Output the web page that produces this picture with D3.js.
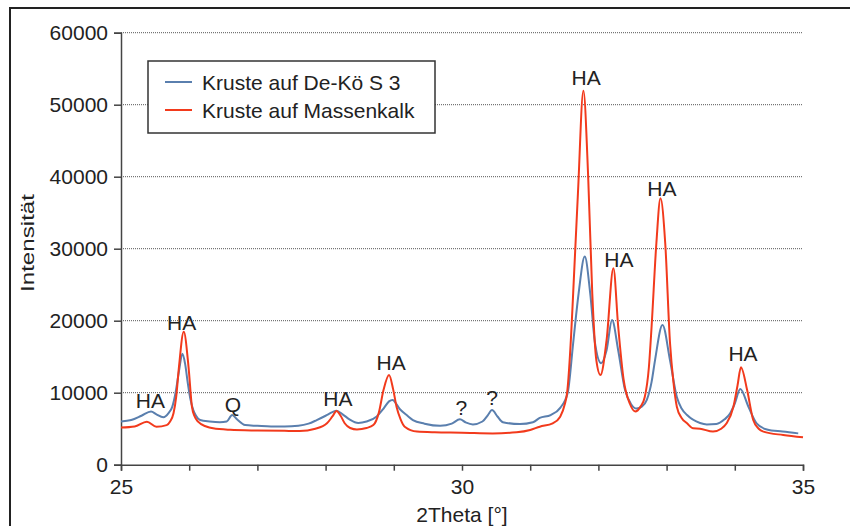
<!DOCTYPE html>
<html>
<head>
<meta charset="utf-8">
<script src="https://cdn.jsdelivr.net/npm/d3@7"></script>
<style>
  body { margin: 0; background: #fff; }
  svg { display: block; font-family: "Liberation Sans", Arial, sans-serif; }
</style>
</head>
<body>
<svg id="chart" width="850" height="526"></svg>
<script>
// ---- data ----
const seriesNames = ["Kruste auf De-Kö S 3", "Kruste auf Massenkalk"];

const blueX = [25.00,25.15,25.30,25.44,25.52,25.62,25.70,25.75,25.80,25.85,25.90,25.94,25.98,26.02,26.06,26.10,26.16,26.30,26.45,26.55,26.63,26.70,26.82,27.00,27.20,27.40,27.60,27.75,27.87,28.00,28.10,28.16,28.25,28.35,28.48,28.60,28.75,28.85,28.93,28.98,29.09,29.20,29.28,29.45,29.68,29.85,29.97,30.05,30.16,30.30,30.38,30.44,30.52,30.60,30.85,31.04,31.14,31.30,31.44,31.55,31.63,31.71,31.80,31.88,31.95,32.04,32.12,32.20,32.29,32.39,32.48,32.56,32.64,32.71,32.78,32.83,32.94,33.05,33.15,33.22,33.30,33.49,33.59,33.73,33.85,33.93,34.00,34.08,34.20,34.32,34.47,34.70,34.93];
const blueY = [6000,6200,6800,7400,7000,6600,7200,8000,10000,13000,15400,14000,11300,9000,7600,6800,6200,6000,5900,6000,6900,6300,5500,5400,5300,5300,5400,5700,6200,6800,7300,7500,7000,6300,5800,6000,6700,7800,8800,9000,7700,6800,6200,5700,5400,5700,6300,5900,5600,6000,6900,7600,6700,5900,5650,5900,6500,6900,7900,10000,16900,23800,28900,23800,16900,14100,15900,20100,15900,10400,8400,7800,8100,9000,11500,14500,19400,14500,9400,7800,6900,5800,5600,5650,6300,7100,8500,10500,8050,5750,4900,4600,4350];

const redX = [25.00,25.20,25.38,25.52,25.67,25.72,25.77,25.81,25.85,25.92,25.99,26.04,26.08,26.13,26.25,26.35,26.60,27.00,27.40,27.62,27.85,28.02,28.10,28.16,28.22,28.28,28.36,28.46,28.60,28.70,28.78,28.85,28.93,28.99,29.04,29.10,29.16,29.34,29.60,30.00,30.45,30.80,31.00,31.14,31.33,31.44,31.51,31.54,31.60,31.63,31.70,31.78,31.85,31.91,31.97,32.03,32.12,32.22,32.29,32.37,32.46,32.54,32.62,32.68,32.74,32.78,32.85,32.91,32.98,33.05,33.10,33.15,33.22,33.30,33.39,33.49,33.68,33.80,33.88,33.98,34.04,34.09,34.18,34.27,34.35,34.42,34.71,35.00];
const redY = [5150,5300,5970,5280,5500,6000,7140,9500,13600,18470,13600,8060,6700,5970,5300,5050,4850,4750,4700,4680,5000,5750,6700,7460,6800,5750,5100,4900,5100,5500,7200,10400,12460,10500,8050,6300,5280,4600,4500,4450,4350,4500,4820,5280,5750,6670,8500,9900,18000,23800,37700,51950,40000,23800,14500,12460,17300,27300,19200,11800,8500,7400,8100,9400,13500,19200,30750,37000,30750,16900,11500,8060,6500,5750,5050,5000,4600,5000,5750,8050,11000,13530,10400,6200,5000,4600,4120,3800];

const peakText = ["HA","HA","Q","HA","HA","?","?","HA","HA","HA","HA"];
const peakX    = [25.43,25.89,26.64,28.18,28.96,29.99,30.44,31.82,32.30,32.93,34.12];
const peakY    = [8990,19820,8430,9260,14270,8010,9400,53850,28570,38430,15510];

const yTicks = [0,10000,20000,30000,40000,50000,60000];
const xTicks = [25,26,27,28,29,30,31,32,33,34,35];
const xTickLabels = [25,30,35];

// ---- layout ----
const svg = d3.select("#chart");
const mLeft = 121, mRight = 803, mTop = 32.7, mBottom = 464.7;
const x = d3.scaleLinear().domain([25,35]).range([mLeft,mRight]);
const y = d3.scaleLinear().domain([0,60000]).range([mBottom,mTop]);
const textColor = "#222";
const axisColor = "#444";

// outer frame
svg.append("path").attr("d","M10,530 V8 H852").attr("fill","none")
  .attr("stroke","#222").attr("stroke-width",2);

// gridlines
svg.append("g").selectAll("line").data(yTicks.filter(d=>d>0)).join("line")
  .attr("x1",mLeft).attr("x2",mRight).attr("y1",d=>y(d)).attr("y2",d=>y(d))
  .attr("stroke","#555").attr("stroke-width",1).attr("stroke-dasharray","1,1");

// y axis
const yAxis = d3.axisLeft(y).tickValues(yTicks).tickSize(7).tickPadding(6).tickFormat(d3.format("d"));
const gy = svg.append("g").attr("transform",`translate(${mLeft},0)`).call(yAxis);
gy.select(".domain").attr("stroke",axisColor).attr("stroke-width",1.5);
gy.selectAll(".tick line").attr("stroke",axisColor).attr("stroke-width",1.5);
gy.selectAll(".tick text").attr("font-size",21).attr("fill",textColor)
  .attr("font-family","Liberation Sans, Arial, sans-serif");

// x axis
const xAxis = d3.axisBottom(x).tickValues(xTicks).tickSize(6).tickPadding(8)
  .tickFormat(d => xTickLabels.includes(d) ? d : "");
const gx = svg.append("g").attr("transform",`translate(0,${mBottom})`).call(xAxis);
gx.select(".domain").attr("stroke",axisColor).attr("stroke-width",1.5);
gx.selectAll(".tick line").attr("stroke",axisColor).attr("stroke-width",1.5);
gx.selectAll(".tick text").attr("font-size",21).attr("fill",textColor)
  .attr("font-family","Liberation Sans, Arial, sans-serif");

// axis titles
svg.append("text").attr("x",(mLeft+mRight)/2).attr("y",522).attr("text-anchor","middle")
  .attr("font-size",21).attr("fill",textColor).text("2Theta [°]");
svg.append("text").attr("transform",`translate(34,243) rotate(-90)`)
  .attr("text-anchor","middle").attr("font-size",18).attr("fill",textColor)
  .attr("textLength",98).attr("lengthAdjust","spacingAndGlyphs").text("Intensität");

// lines
const line = d3.line().x(d=>x(d[0])).y(d=>y(d[1])).curve(d3.curveMonotoneX);
const blue = blueX.map((v,i)=>[v,blueY[i]]);
const red = redX.map((v,i)=>[v,redY[i]]);
const colors = ["#5a7fae","#f23a1c"];
svg.append("path").datum(blue).attr("d",line).attr("fill","none")
  .attr("stroke",colors[0]).attr("stroke-width",2).attr("stroke-linejoin","round");
svg.append("path").datum(red).attr("d",line).attr("fill","none")
  .attr("stroke",colors[1]).attr("stroke-width",2).attr("stroke-linejoin","round");

// peak labels
svg.append("g").selectAll("text").data(peakText).join("text")
  .attr("x",(d,i)=>x(peakX[i])).attr("y",(d,i)=>y(peakY[i])).attr("dy","0.36em")
  .attr("text-anchor","middle").attr("font-size",21).attr("fill",textColor).text(d=>d);

// legend
const lg = svg.append("g");
lg.append("rect").attr("x",148).attr("y",61).attr("width",287).attr("height",72)
  .attr("fill","#fff").attr("stroke","#333").attr("stroke-width",1.5);
seriesNames.forEach((name,i)=>{
  const yy = 82 + i*28;
  lg.append("line").attr("x1",165).attr("x2",192).attr("y1",yy).attr("y2",yy)
    .attr("stroke",colors[i]).attr("stroke-width",2);
  lg.append("text").attr("x",202).attr("y",yy).attr("dy","0.36em")
    .attr("font-size",21).attr("fill",textColor).text(name);
});
</script>
</body>
</html>
